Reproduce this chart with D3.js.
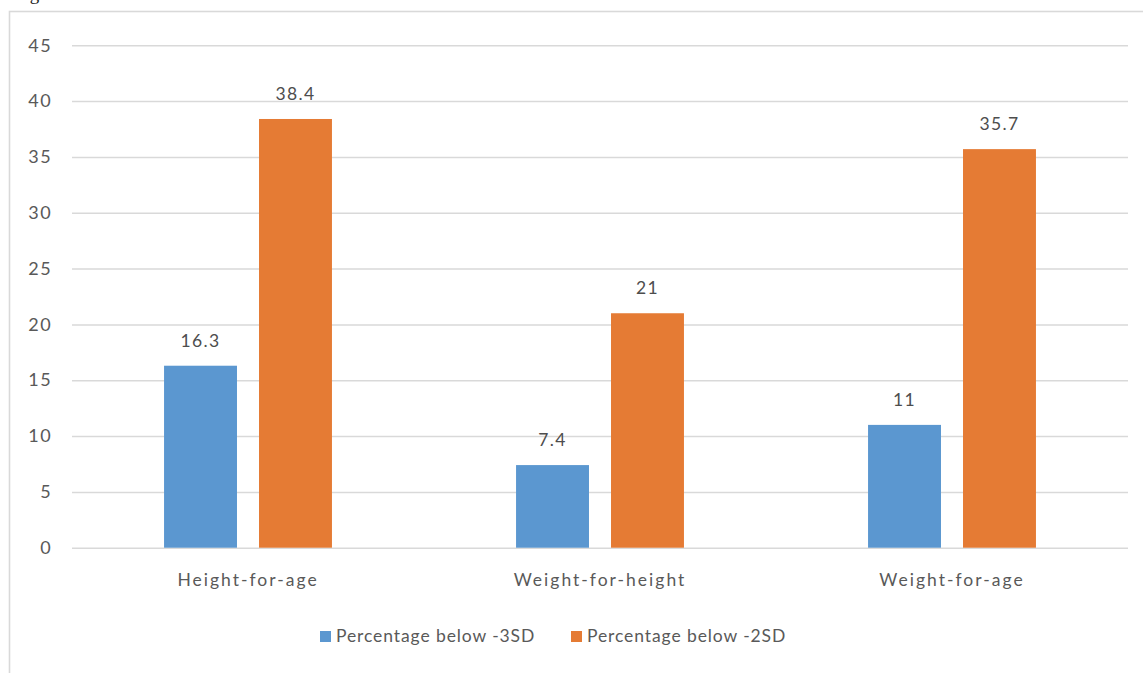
<!DOCTYPE html>
<html>
<head>
<meta charset="utf-8">
<script src="https://cdn.jsdelivr.net/npm/d3@7"></script>
<style>
  html, body { margin: 0; padding: 0; background: #fff; }
  svg { display: block; }
  text { font-family: Lato, "Open Sans", sans-serif; fill: #595959; }
</style>
</head>
<body>
<svg id="chart" width="1143" height="673"></svg>
<script>
// Malnutrition indicators: share of children below -3SD and -2SD
const categories = ["Height-for-age", "Weight-for-height", "Weight-for-age"];
const seriesNames = ["Percentage below -3SD", "Percentage below -2SD"];
const below3SD = [16.3, 7.4, 11];
const below2SD = [38.4, 21, 35.7];
const yTicks = [0, 5, 10, 15, 20, 25, 30, 35, 40, 45];
const seriesColors = ["#5b97d0", "#e57b34"];

const seriesValues = [below3SD, below2SD];
const rows = categories.map((c, i) => ({
  category: c,
  values: seriesNames.map((s, k) => ({ series: s, value: seriesValues[k][i], k }))
}));

const svg = d3.select("#chart");
const plotLeft = 72, plotRight = 1128, plotTop = 45.3, plotBottom = 547.7;

// Outer chart frame (runs off the right and bottom edges)
svg.append("rect")
  .attr("x", 9.5).attr("y", 11.5)
  .attr("width", 1160).attr("height", 700)
  .attr("fill", "none")
  .attr("stroke", "#d9d9d9")
  .attr("stroke-width", 1.6);

// Caption line above the frame, mostly cut off
svg.append("text")
  .attr("x", 14).attr("y", 0)
  .style("font-family", "'Liberation Serif', serif")
  .style("font-size", "19px")
  .style("fill", "#222")
  .text("Figure");

const y = d3.scaleLinear().domain([0, 45]).range([plotBottom, plotTop]);
const x0 = d3.scaleBand().domain(categories).range([plotLeft, plotRight])
  .paddingInner(0.523).paddingOuter(0.2615);
const x1 = d3.scaleBand().domain(seriesNames).range([0, x0.bandwidth()])
  .paddingInner(0.232).paddingOuter(0);

// Value axis with horizontal gridlines
const yAxis = svg.append("g")
  .attr("transform", `translate(${plotLeft},0)`)
  .call(d3.axisLeft(y).tickValues(yTicks).tickSize(-(plotRight - plotLeft)).tickPadding(20));
yAxis.select(".domain").remove();
yAxis.selectAll(".tick line").attr("stroke", "#d9d9d9").attr("stroke-width", 1.5);
yAxis.selectAll(".tick text")
  .style("font-family", "Lato, sans-serif")
  .style("font-size", "18px")
  .style("letter-spacing", "1.4px")
  .attr("fill", "#595959");

// Bars
const groups = svg.append("g").selectAll("g")
  .data(rows).join("g")
  .attr("transform", d => `translate(${x0(d.category)},0)`);

groups.selectAll("rect")
  .data(d => d.values).join("rect")
  .attr("x", d => x1(d.series))
  .attr("y", d => y(d.value))
  .attr("width", x1.bandwidth())
  .attr("height", d => y(0) - y(d.value))
  .attr("fill", d => seriesColors[d.k]);

// Value labels above bars
groups.selectAll("text.val")
  .data(d => d.values).join("text")
  .attr("class", "val")
  .attr("x", d => x1(d.series) + x1.bandwidth() / 2)
  .attr("y", d => y(d.value) - 19)
  .attr("text-anchor", "middle")
  .style("font-size", "17.5px")
  .style("letter-spacing", "1.3px")
  .style("fill", "#4d4d4d")
  .text(d => d.value);

// Category axis labels
const xAxis = svg.append("g")
  .attr("transform", `translate(0,${plotBottom})`)
  .call(d3.axisBottom(x0).tickSize(0).tickPadding(26));
xAxis.select(".domain").remove();
xAxis.selectAll(".tick text")
  .style("font-family", "Lato, sans-serif")
  .style("font-size", "17.5px")
  .style("letter-spacing", "2px")
  .attr("fill", "#595959");

// Legend
const legendItems = [
  { name: seriesNames[0], color: seriesColors[0], x: 320 },
  { name: seriesNames[1], color: seriesColors[1], x: 571 }
];
const legend = svg.append("g");
const li = legend.selectAll("g").data(legendItems).join("g")
  .attr("transform", d => `translate(${d.x},631)`);
li.append("rect").attr("width", 11).attr("height", 11).attr("fill", d => d.color);
li.append("text")
  .attr("x", 16).attr("y", 10.5)
  .style("font-size", "17.5px")
  .style("letter-spacing", "0.9px")
  .text(d => d.name);
</script>
</body>
</html>
